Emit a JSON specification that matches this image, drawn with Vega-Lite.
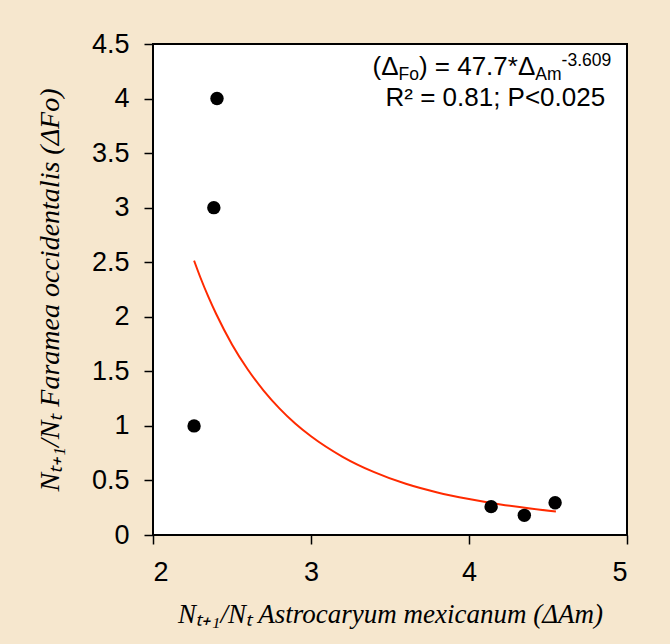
{
  "$schema": "https://vega.github.io/schema/vega-lite/v6.json",
  "width": 474,
  "height": 491,
  "autosize": "none",
  "padding": {"left": 153, "top": 44, "right": 43, "bottom": 109},
  "background": "#F6E7CE",
  "config": {
    "view": {"fill": "white", "stroke": "black", "strokeWidth": 2},
    "axis": {"grid": false}
  },
  "datasets": {
    "points": [
      {"am": 2.26, "fo": 1.0},
      {"am": 2.385, "fo": 3.0},
      {"am": 2.405, "fo": 4.0},
      {"am": 4.14, "fo": 0.26},
      {"am": 4.35, "fo": 0.18},
      {"am": 4.545, "fo": 0.295}
    ],
    "fit": [
      {"am": 2.26, "fo": 2.515},
      {"am": 2.3, "fo": 2.36},
      {"am": 2.35, "fo": 2.184},
      {"am": 2.4, "fo": 2.025},
      {"am": 2.5, "fo": 1.747},
      {"am": 2.6, "fo": 1.517},
      {"am": 2.7, "fo": 1.324},
      {"am": 2.8, "fo": 1.161},
      {"am": 2.9, "fo": 1.022},
      {"am": 3.0, "fo": 0.905},
      {"am": 3.2, "fo": 0.717},
      {"am": 3.4, "fo": 0.576},
      {"am": 3.6, "fo": 0.469},
      {"am": 3.8, "fo": 0.39},
      {"am": 4.0, "fo": 0.33},
      {"am": 4.2, "fo": 0.28},
      {"am": 4.4, "fo": 0.24},
      {"am": 4.55, "fo": 0.215}
    ]
  },
  "layer": [
    {
      "data": {"name": "fit"},
      "mark": {"type": "line", "color": "#FF2A00", "strokeWidth": 2, "interpolate": "monotone"},
      "encoding": {
        "x": {
          "field": "am",
          "type": "quantitative",
          "scale": {"domain": [2, 5], "nice": false, "zero": false},
          "axis": {
            "values": [2, 3, 4, 5],
            "format": "~g",
            "domain": false,
            "tickSize": 9,
            "tickWidth": 1.5,
            "tickColor": "black",
            "labelFont": "Liberation Sans",
            "labelFontSize": 27,
            "labelColor": "black",
            "labelPadding": 15,
            "title": "Nₜ₊₁/Nₜ Astrocaryum mexicanum (ΔAm)",
            "titleFont": "Liberation Serif",
            "titleFontStyle": "italic",
            "titleFontWeight": "normal",
            "titleFontSize": 27,
            "titleColor": "black",
            "titlePadding": 16
          }
        },
        "y": {
          "field": "fo",
          "type": "quantitative",
          "scale": {"domain": [0, 4.5], "nice": false},
          "axis": {
            "values": [0, 0.5, 1, 1.5, 2, 2.5, 3, 3.5, 4, 4.5],
            "format": "~g",
            "domain": false,
            "tickSize": 9,
            "tickWidth": 1.5,
            "tickColor": "black",
            "labelFont": "Liberation Sans",
            "labelFontSize": 27,
            "labelColor": "black",
            "labelPadding": 15,
            "title": "Nₜ₊₁/Nₜ Faramea occidentalis (ΔFo)",
            "titleFont": "Liberation Serif",
            "titleFontStyle": "italic",
            "titleFontWeight": "normal",
            "titleFontSize": 28,
            "titleColor": "black",
            "titlePadding": 27
          }
        }
      }
    },
    {
      "data": {"name": "points"},
      "mark": {"type": "circle", "size": 180, "color": "black", "opacity": 1},
      "encoding": {
        "x": {"field": "am", "type": "quantitative"},
        "y": {"field": "fo", "type": "quantitative"}
      }
    },
    {
      "data": {"values": [{}]},
      "mark": {"type": "text", "text": "-3.609", "align": "right", "baseline": "alphabetic", "font": "Liberation Sans", "fontSize": 17.5, "color": "black", "dy": -9},
      "encoding": {"x": {"datum": 4.9, "type": "quantitative"}, "y": {"datum": 4.216, "type": "quantitative"}}
    },
    {
      "data": {"values": [{}]},
      "mark": {"type": "text", "text": "Am", "align": "right", "baseline": "alphabetic", "font": "Liberation Sans", "fontSize": 17.5, "color": "black", "dx": -49.6, "dy": 5},
      "encoding": {"x": {"datum": 4.9, "type": "quantitative"}, "y": {"datum": 4.216, "type": "quantitative"}}
    },
    {
      "data": {"values": [{}]},
      "mark": {"type": "text", "text": ") = 47.7*Δ", "align": "right", "baseline": "alphabetic", "font": "Liberation Sans", "fontSize": 26, "color": "black", "dx": -75.9},
      "encoding": {"x": {"datum": 4.9, "type": "quantitative"}, "y": {"datum": 4.216, "type": "quantitative"}}
    },
    {
      "data": {"values": [{}]},
      "mark": {"type": "text", "text": "Fo", "align": "right", "baseline": "alphabetic", "font": "Liberation Sans", "fontSize": 17.5, "color": "black", "dx": -192.3, "dy": 5},
      "encoding": {"x": {"datum": 4.9, "type": "quantitative"}, "y": {"datum": 4.216, "type": "quantitative"}}
    },
    {
      "data": {"values": [{}]},
      "mark": {"type": "text", "text": "(Δ", "align": "right", "baseline": "alphabetic", "font": "Liberation Sans", "fontSize": 26, "color": "black", "dx": -212.7},
      "encoding": {"x": {"datum": 4.9, "type": "quantitative"}, "y": {"datum": 4.216, "type": "quantitative"}}
    },
    {
      "data": {"values": [{}]},
      "mark": {"type": "text", "text": "R² = 0.81; P<0.025", "align": "right", "baseline": "alphabetic", "font": "Liberation Sans", "fontSize": 26, "color": "black", "dx": -6},
      "encoding": {"x": {"datum": 4.9, "type": "quantitative"}, "y": {"datum": 3.93, "type": "quantitative"}}
    }
  ]
}
